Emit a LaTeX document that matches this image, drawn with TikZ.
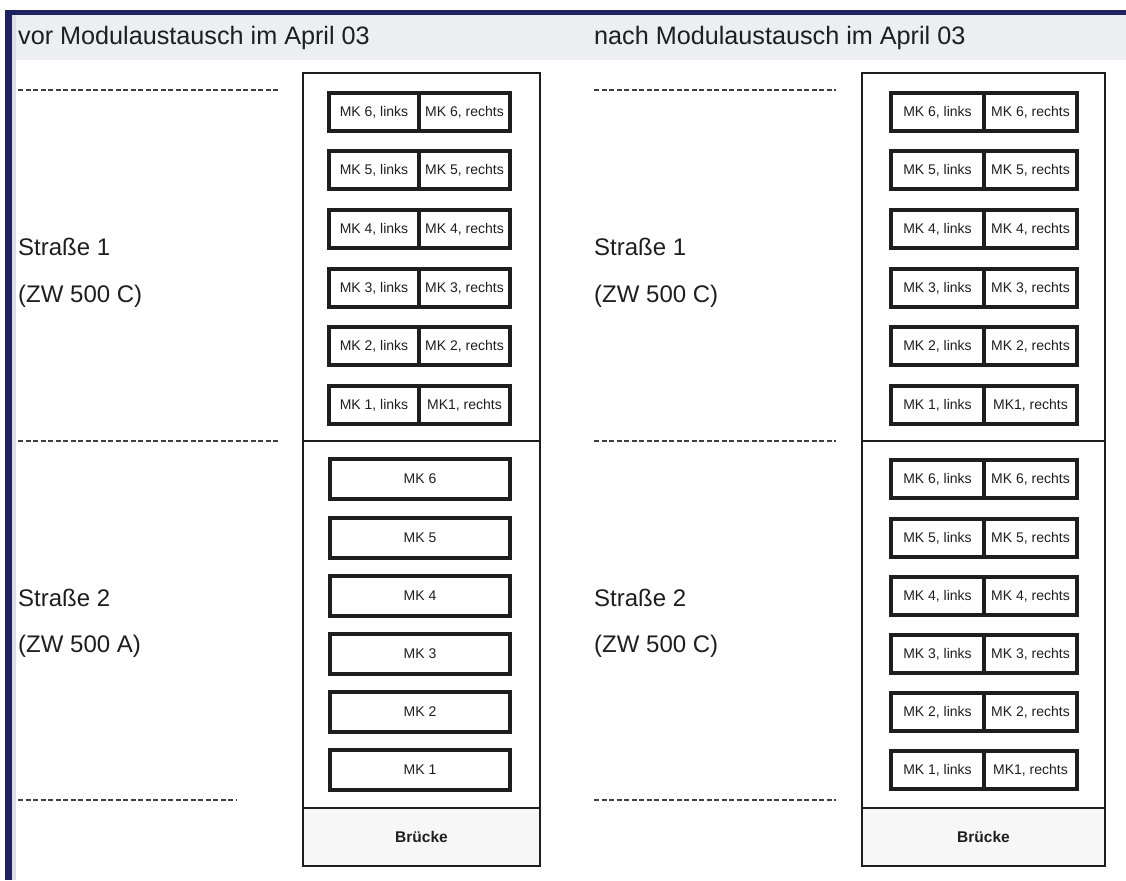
\documentclass[tikz,border=0pt]{standalone}
\usepackage{fontspec}
\setmainfont{Liberation Sans}
\definecolor{navy}{RGB}{30,35,95}
\definecolor{band}{RGB}{236,238,242}
\definecolor{ink}{RGB}{30,30,30}
\begin{document}
\begin{tikzpicture}[x=1pt,y=-1pt,
  cell/.style={draw=ink, line width=3.4pt, minimum height=38pt, inner sep=0pt, text=ink,
    font=\fontsize{14}{16}\selectfont},
  frame/.style={draw=ink, line width=2.2pt},
  bigtext/.style={anchor=west, inner sep=0pt, text=ink, font=\fontsize{24}{28}\selectfont},
  headtext/.style={anchor=west, inner sep=0pt, text=ink, font=\fontsize{25.2}{30}\selectfont},
  sep/.style={draw=ink!85, line width=2.4pt, dash pattern=on 5pt off 2.5pt},
]
\useasboundingbox (0,0) rectangle (1126,880);
\fill[white] (0,0) rectangle (1126,880);
% header band
\fill[band] (12,15) rectangle (1126,60);
\fill[navy] (5,10) rectangle (1126,15);
\fill[navy] (5,10) rectangle (12,880);
\fill[navy!15] (12,15) rectangle (16,880);

% headers
\node[headtext] (h1) at (18,38) {vor Modulaustausch im April 03};
\node[headtext] (h2) at (594,38) {nach Modulaustausch im April 03};

% side labels
\node[bigtext] (s1l) at (18,247) {Straße 1};
\node[bigtext] (z1l) at (18,296) {(ZW 500 C)};
\node[bigtext] (s2l) at (18,598) {Straße 2};
\node[bigtext] (z2l) at (18,646) {(ZW 500 A)};
\node[bigtext] (s1r) at (594,247) {Straße 1};
\node[bigtext] (z1r) at (594,296) {(ZW 500 C)};
\node[bigtext] (s2r) at (594,598) {Straße 2};
\node[bigtext] (z2r) at (594,646) {(ZW 500 C)};

% dashed separators
\coordinate (da1) at (18,90);  \coordinate (db1) at (278,90);
\coordinate (da2) at (18,441); \coordinate (db2) at (278,441);
\coordinate (da3) at (18,800); \coordinate (db3) at (236,800);
\coordinate (dc1) at (594,90);  \coordinate (dd1) at (836,90);
\coordinate (dc2) at (594,441); \coordinate (dd2) at (836,441);
\coordinate (dc3) at (594,800); \coordinate (dd3) at (836,800);
\draw[sep] (da1) -- (db1);
\draw[sep] (da2) -- (db2);
\draw[sep] (da3) -- (db3);
\draw[sep] (dc1) -- (dd1);
\draw[sep] (dc2) -- (dd2);
\draw[sep] (dc3) -- (dd3);

% left frame
\fill[black!3] (303,808) rectangle (540,866);
\draw[frame] (303,73) rectangle (540,866);
\coordinate (lm1) at (303,441); \coordinate (lm2) at (540,441);
\coordinate (lb1) at (303,808); \coordinate (lb2) at (540,808);
\draw[frame] (lm1) -- (lm2);
\draw[frame] (lb1) -- (lb2);
\node[text=ink, font=\bfseries\fontsize{15.5}{18}\selectfont] (brL) at (421.5,837) {Brücke};

% right frame
\fill[black!3] (862,808) rectangle (1105,866);
\draw[frame] (862,73) rectangle (1105,866);
\coordinate (rm1) at (862,441); \coordinate (rm2) at (1105,441);
\coordinate (rb1) at (862,808); \coordinate (rb2) at (1105,808);
\draw[frame] (rm1) -- (rm2);
\draw[frame] (rb1) -- (rb2);
\node[text=ink, font=\bfseries\fontsize{15.5}{18}\selectfont] (brR) at (983.5,837) {Brücke};

% Straße 1 left (split cells)
\foreach \i/\y in {6/112,5/170,4/229,3/288,2/346,1/405}{
  \node[cell, minimum width=90pt] (La\i) at (374,\y) {MK \i, links};
}
\foreach \i/\y in {6/112,5/170,4/229,3/288,2/346}{
  \node[cell, minimum width=91pt] (Lb\i) at (464.5,\y) {MK \i, rechts};
}
\node[cell, minimum width=91pt] (Lb1) at (464.5,405) {MK1, rechts};

% Straße 2 left (single cells)
\foreach \i/\y in {6/479,5/538,4/596,3/654,2/712,1/770}{
  \node[cell, minimum width=180pt, minimum height=40pt] (Lc\i) at (420,\y) {MK \i};
}

% right, both streets split
\foreach \i/\y in {6/112,5/170,4/229,3/288,2/346,1/405}{
  \node[cell, minimum width=93pt] (Ra\i) at (937.5,\y) {MK \i, links};
}
\foreach \i/\y in {6/112,5/170,4/229,3/288,2/346}{
  \node[cell, minimum width=93pt] (Rb\i) at (1030.5,\y) {MK \i, rechts};
}
\node[cell, minimum width=93pt] (Rb1) at (1030.5,405) {MK1, rechts};

\foreach \i/\y in {6/479,5/538,4/596,3/654,2/712,1/770}{
  \node[cell, minimum width=93pt] (Rc\i) at (937.5,\y) {MK \i, links};
}
\foreach \i/\y in {6/479,5/538,4/596,3/654,2/712}{
  \node[cell, minimum width=93pt] (Rd\i) at (1030.5,\y) {MK \i, rechts};
}
\node[cell, minimum width=93pt] (Rd1) at (1030.5,770) {MK1, rechts};
\end{tikzpicture}
\end{document}
